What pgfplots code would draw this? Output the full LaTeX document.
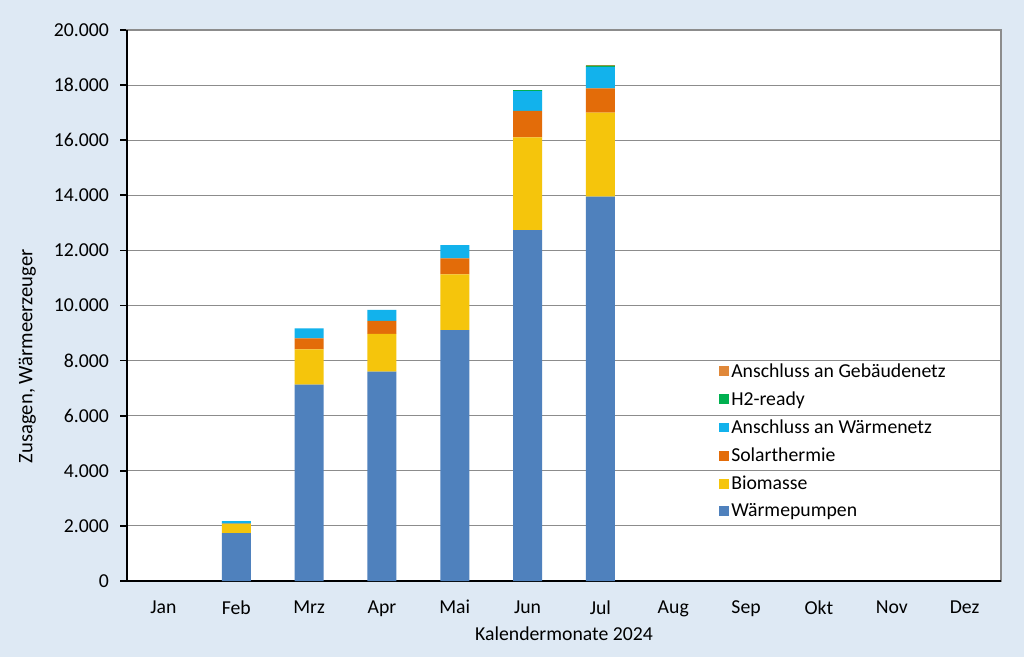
\documentclass[border=0pt]{standalone}
\usepackage{fontspec}
\setmainfont{Carlito}
\usepackage{pgfplots}
\pgfplotsset{compat=1.18}
\definecolor{bgblue}{HTML}{DEE9F4}
\definecolor{cwp}{HTML}{4F81BD}
\definecolor{cbio}{HTML}{F5C50C}
\definecolor{csol}{HTML}{E36C09}
\definecolor{cwn}{HTML}{12B2EC}
\definecolor{ch2}{HTML}{00B050}
\definecolor{cgeb}{HTML}{E0883A}

\begin{document}
\begin{tikzpicture}
  % background, 1024x657 px at 0.75pt per px
  \fill[bgblue] (0pt,0pt) rectangle (768pt,492.75pt);
  \begin{axis}[
      at={(95.25pt,57pt)}, anchor=south west,
      scale only axis,
      width=655.5pt, height=413.25pt,
      ybar stacked, bar width=21.75pt,
      axis background/.style={fill=white},
      xmin=-0.5, xmax=11.5,
      ymin=0, ymax=20000,
      ytick={0,2000,...,20000},
      scaled y ticks=false,
      xtick={0,...,11},
      xticklabels={Jan,Feb,Mrz,Apr,Mai,Jun,Jul,Aug,Sep,Okt,Nov,Dez},
      x tick style={draw=none},
      extra x ticks={-0.5,0.5,...,11.5},
      extra x tick labels={},
      extra x tick style={tick style={draw=black, line width=1.2pt}, major tick length=6pt, tick align=outside},
      y tick style={black, line width=1.2pt},
      major tick length=5pt,
      tick align=outside,
      tick pos=left,
      ymajorgrids, grid style={black!45, line width=0.8pt},
      axis line style={black!45, line width=1pt},
      /pgf/number format/.cd, 1000 sep={.}, assume math mode=true,
      /pgfplots/.cd,
      tick label style={font=\fontsize{14.8}{17}\selectfont},
      yticklabel style={xshift=-5pt},
      xticklabel style={yshift=-6pt},
      xlabel={Kalendermonate 2024},
      ylabel={Zusagen, Wärmeerzeuger},
      every axis x label/.style={at={(axis description cs:0.5,-0.0962)}, anchor=center,
        font=\fontsize{14.8}{17}\selectfont},
      every axis y label/.style={at={(axis description cs:-0.114,0.408)}, rotate=90, anchor=center,
        font=\fontsize{15.5}{17}\selectfont},
      legend style={at={(0.672,0.405)}, anchor=north west, draw=none, fill=none,
        font=\fontsize{14.8}{17}\selectfont, row sep=5.3pt,
        /tikz/every even column/.append style={column sep=2pt}},
      legend cell align=left,
      reverse legend,
      legend image code/.code={\fill[#1] (0pt,-3.7pt) rectangle (7.5pt,3.7pt);},
      clip=false,
    ]
    \addplot[fill=cwp, draw=none] coordinates {(1,1740) (2,7125) (3,7600) (4,9110) (5,12740) (6,13950)};
    \addlegendentry{Wärmepumpen}
    \addplot[fill=cbio, draw=none] coordinates {(1,330) (2,1285) (3,1370) (4,2020) (5,3365) (6,3050)};
    \addlegendentry{Biomasse}
    \addplot[fill=csol, draw=none] coordinates {(1,15) (2,400) (3,470) (4,580) (5,955) (6,880)};
    \addlegendentry{Solarthermie}
    \addplot[fill=cwn, draw=none] coordinates {(1,85) (2,363) (3,400) (4,480) (5,720) (6,780)};
    \addlegendentry{Anschluss an Wärmenetz}
    \addplot[fill=ch2, draw=none] coordinates {(1,0) (2,0) (3,0) (4,0) (5,40) (6,45)};
    \addlegendentry{H2-ready}
    \addplot[fill=cgeb, draw=none] coordinates {(1,0) (2,0) (3,0) (4,0) (5,0) (6,10)};
    \addlegendentry{Anschluss an Gebäudenetz}
    % thicker left and bottom axis lines
    \draw[black, line width=1.4pt] (rel axis cs:0,1) -- (rel axis cs:0,0) -- (rel axis cs:1,0);
  \end{axis}
\end{tikzpicture}
\end{document}
